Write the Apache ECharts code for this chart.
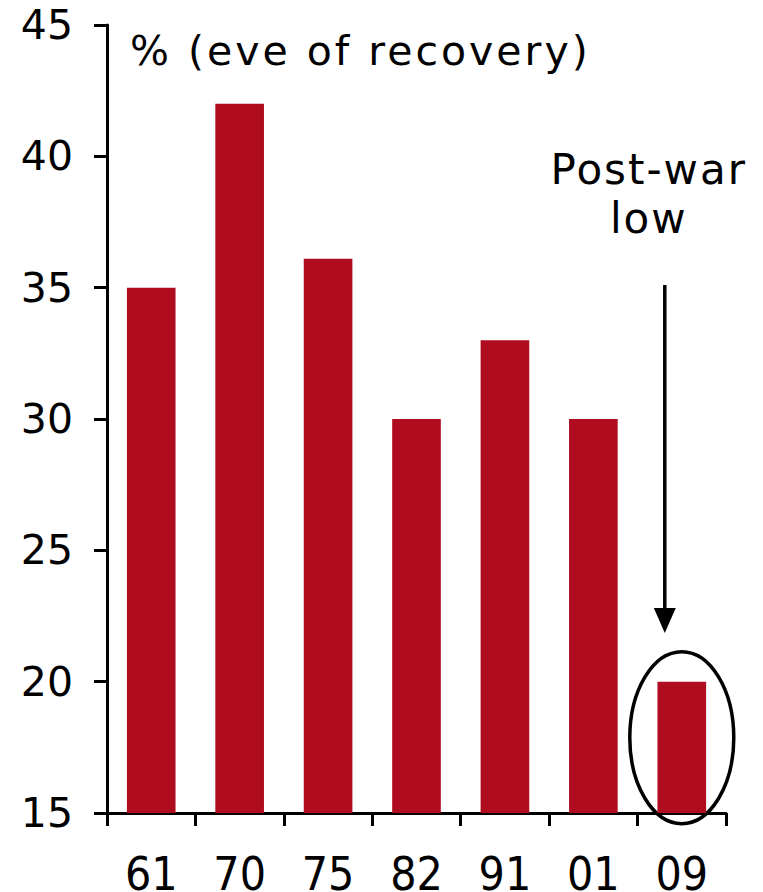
<!DOCTYPE html>
<html>
<head>
<meta charset="utf-8">
<script src="https://cdn.jsdelivr.net/npm/echarts@6/dist/echarts.min.js"></script>
<style>html,body{margin:0;padding:0;background:#fff}#c{width:763px;height:892px}</style>
</head>
<body>
<div id="c"></div>
<script>
const categories = ['61', '70', '75', '82', '91', '01', '09'];
const values = [35, 42, 36.1, 30, 33, 30, 20];
const yTicks = { min: 15, max: 45, interval: 5 };
const titleText = '% (eve of recovery)';
const noteLines = ['Post-war', 'low'];

const FONT = 'DejaVu Sans';
const XFONT = '"Liberation Sans Narrow", "DejaVu Sans Condensed", "DejaVu Sans"';
const chart = echarts.init(document.getElementById('c'), null, { renderer: 'svg' });
chart.setOption({
  animation: false,
  backgroundColor: '#fff',
  title: {
    text: titleText, left: 125, top: 25,
    textStyle: { fontFamily: FONT, fontSize: 41, fontWeight: 'normal', color: '#000' }
  },
  grid: { left: 107, right: 37, top: 25, bottom: 79, containLabel: false, outerBoundsMode: 'none' },
  xAxis: {
    type: 'category', data: categories, boundaryGap: true,
    axisLine: { lineStyle: { color: '#000', width: 3 } },
    axisTick: { show: true, length: 13, lineStyle: { color: '#000', width: 3 } },
    axisLabel: { fontFamily: XFONT, fontSize: 46, lineHeight: 34, color: '#000', margin: 44 }
  },
  yAxis: {
    type: 'value', min: yTicks.min, max: yTicks.max, interval: yTicks.interval,
    splitLine: { show: false },
    axisLine: { show: true, lineStyle: { color: '#000', width: 3 } },
    axisTick: { show: true, length: 13, lineStyle: { color: '#000', width: 3 } },
    axisLabel: { fontFamily: FONT, fontSize: 41, color: '#000', margin: 34 }
  },
  series: [{
    type: 'bar', data: values, barWidth: '55%',
    itemStyle: { color: '#AF0C1F' }
  }]
});

const p = chart.convertToPixel({ xAxisIndex: 0, yAxisIndex: 0 }, ['09', 20]);
const ax = p[0] - 17;
const tx = p[0] - 33;
chart.setOption({
  graphic: [
    { type: 'text', style: { x: tx, y: 148, text: noteLines[0], fontFamily: FONT, fontSize: 42, fill: '#000', align: 'center', verticalAlign: 'top' } },
    { type: 'text', style: { x: tx, y: 197, text: noteLines[1], fontFamily: FONT, fontSize: 42, fill: '#000', align: 'center', verticalAlign: 'top' } },
    { type: 'line', shape: { x1: ax, y1: 285, x2: ax, y2: 610 }, style: { stroke: '#000', lineWidth: 3.5 } },
    { type: 'polygon', shape: { points: [[ax - 11, 608], [ax + 11, 608], [ax, 633]] }, style: { fill: '#000' } },
    { type: 'ellipse', shape: { cx: p[0], cy: p[1] + 56, rx: 52, ry: 86 }, style: { fill: 'none', stroke: '#000', lineWidth: 3.5 } }
  ]
});

function spaceText() {
  document.querySelectorAll('#c svg text').forEach(function (t) {
    const s = t.textContent;
    if (s === titleText) t.style.letterSpacing = '3px';
    else if (s === noteLines[0] || s === noteLines[1]) t.style.letterSpacing = '2px';
  });
}
spaceText();
chart.on('finished', spaceText);
setTimeout(spaceText, 0);
</script>
</body>
</html>
